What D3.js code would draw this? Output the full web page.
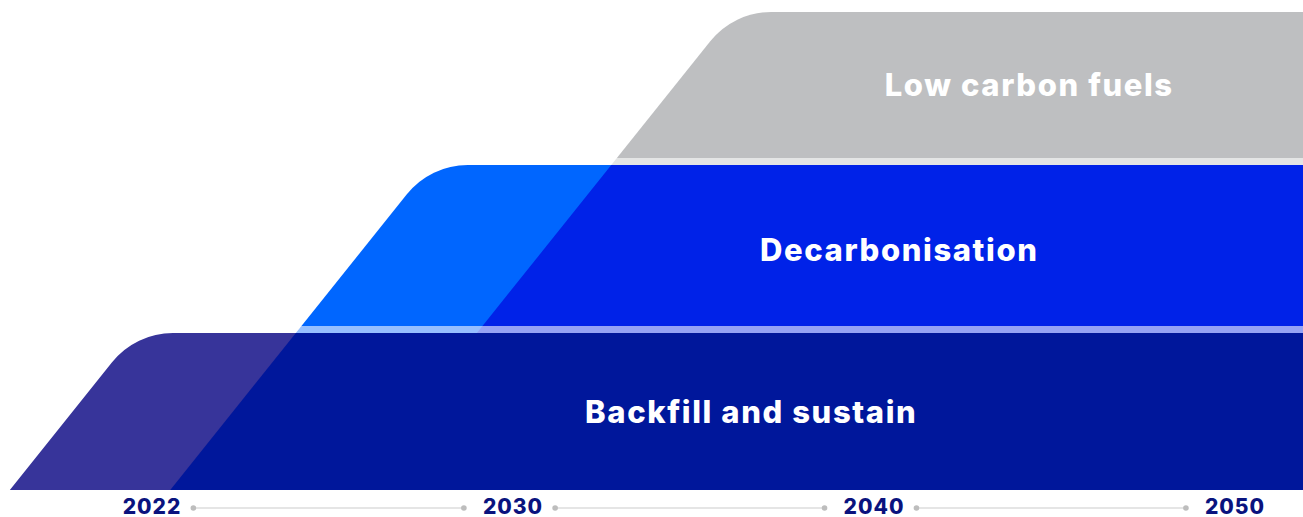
<!DOCTYPE html>
<html>
<head>
<meta charset="utf-8">
<script src="https://cdn.jsdelivr.net/npm/d3@7"></script>
<style>
  body { margin: 0; background: #fff; }
  svg { display: block; }
  text { font-family: Inter, "Open Sans", sans-serif; font-weight: 800; }
</style>
</head>
<body>
<div class="svg-wrap"></div>
<script>
// phases, bottom to top
let phases = ["Backfill and sustain", "Decarbonisation", "Low carbon fuels"];
// year where each phase's slanted edge meets its base
let phaseStart = [2018.85, 2025.25, 2032.8];
// year the phase label is centred on
let labelYear = [2036.6, 2040.7, 2044.3];
let years = ["2022", "2030", "2040", "2050"];

let lightColors = ["#37349a", "#0066ff", "#bebfc1"];
let darkColors = ["#00179b", "#0022e8", "#bebfc1"];

var width = 1303,
  height = 517;

let svg = d3.select(".svg-wrap")
  .append("svg")
  .attr("width", width)
  .attr("height", height);

// axis positions
let xPoint = d3.scalePoint()
  .domain(years)
  .range([152, 1235]);

// timeline scale (piecewise through the axis points)
let xTime = d3.scaleLinear()
  .domain(years.map(Number))
  .range(years.map(d => xPoint(d)));

// band levels
let yLevel = d3.scaleLinear()
  .domain([0, 1, 2, 3])
  .range([490, 329.5, 161.5, 12]);

let slope = 0.8; // dx per dy of slanted edges
let gap = 3.5;
let radius = 78;
let labelDy = [0, 4, 0];

function edgeX(k, y) {
  // x of phase k's slanted edge at height y
  return xTime(phaseStart[k]) + slope * (yLevel(k) - y);
}

function shapePath(k, top, bottom, rounded) {
  let p = d3.path();
  p.moveTo(edgeX(k, bottom), bottom);
  if (rounded) {
    p.arcTo(edgeX(k, top), top, width, top, radius);
  } else {
    p.lineTo(edgeX(k, top), top);
  }
  p.lineTo(width, top);
  p.lineTo(width, bottom);
  p.closePath();
  return p.toString();
}

function drawBand(g, k, top, bottom, rounded) {
  g.append("path")
    .attr("d", shapePath(k, top, bottom, rounded))
    .attr("fill", lightColors[k]);
  if (k + 1 < phases.length) {
    g.append("path")
      .attr("d", shapePath(k + 1, top, bottom, false))
      .attr("fill", darkColors[k]);
  }
}

let bands = svg.append("g").attr("class", "bands");

phases.forEach((name, k) => {
  let top = yLevel(k + 1) + (k + 1 < phases.length ? gap : 0);
  let bottom = yLevel(k) - (k > 0 ? gap : 0);
  drawBand(bands.append("g"), k, top, bottom, true);
  if (k > 0) {
    // faded strip under the band
    let strip = bands.append("g").attr("opacity", 0.41);
    drawBand(strip, k, yLevel(k) - gap, yLevel(k) + gap, false);
  }
  bands.append("text")
    .attr("x", xTime(labelYear[k]))
    .attr("y", (top + bottom) / 2 + labelDy[k])
    .attr("dy", "0.36em")
    .attr("text-anchor", "middle")
    .attr("fill", "#fff")
    .style("font-size", "31px")
    .style("letter-spacing", "1.6px")
    .text(name);
});

// timeline axis
let axis = svg.append("g").attr("class", "axis");

let labels = axis.selectAll(".year")
  .data(years)
  .enter()
  .append("text")
  .attr("class", "year")
  .attr("x", d => xPoint(d))
  .attr("y", 514)
  .attr("text-anchor", "middle")
  .attr("fill", "#0a137e")
  .style("font-size", "21px")
  .style("letter-spacing", "1px")
  .text(d => d);

let half = labels.nodes().map(n => n.getComputedTextLength() / 2);

for (let i = 0; i < years.length - 1; i++) {
  let x1 = xPoint(years[i]) + half[i] + 12;
  let x2 = xPoint(years[i + 1]) - half[i + 1] - 19;
  axis.append("line")
    .attr("x1", x1).attr("x2", x2)
    .attr("y1", 508).attr("y2", 508)
    .attr("stroke", "#cccccc")
    .attr("stroke-width", 1.2);
  [x1, x2].forEach(x => {
    axis.append("circle")
      .attr("cx", x).attr("cy", 508).attr("r", 2.8)
      .attr("fill", "#bdbdbd");
  });
}
</script>
</body>
</html>
